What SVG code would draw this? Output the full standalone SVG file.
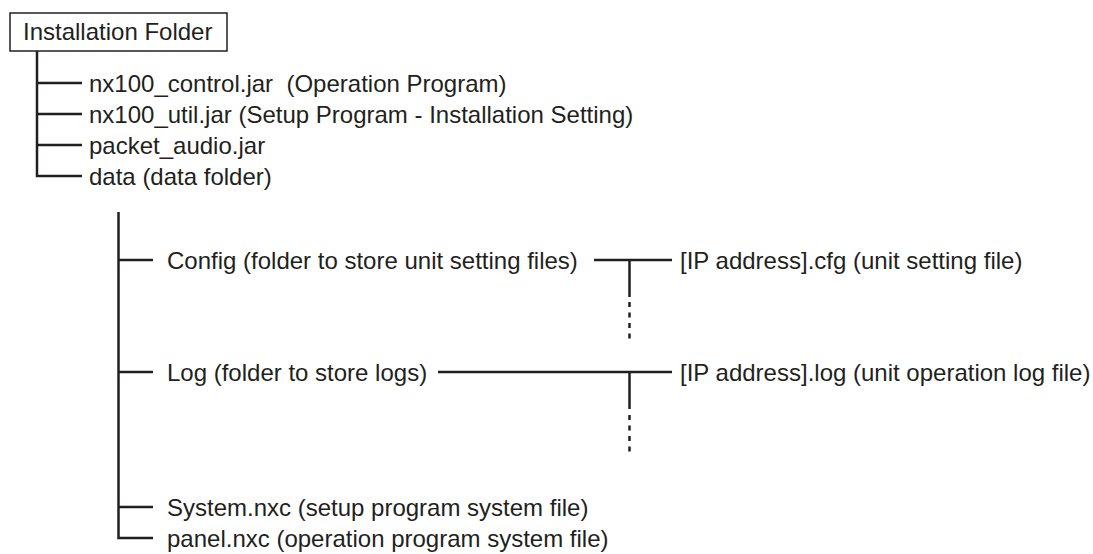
<svg xmlns="http://www.w3.org/2000/svg" width="1093" height="554" viewBox="0 0 1093 554">
<style>
.t{font-family:"Liberation Sans",Arial,Helvetica,sans-serif;font-size:24px;fill:#231f20;white-space:pre}
.ln{stroke:#231f20;stroke-width:2.5;fill:none}
.dash{stroke:#231f20;stroke-width:2.5;fill:none;stroke-dasharray:5 5.5}
.box{stroke:#231f20;stroke-width:1.5;fill:#fff}
</style>
<rect width="1093" height="554" fill="#fff"/>
<g id="connectors">
<path class="ln" d="M37 51V176H82M37 83H82M37 114H82M37 145H82"/>
<path class="ln" d="M118.5 212V538H153M118.5 260H153M118.5 372H153M118.5 507H153"/>
<path class="ln" d="M594 260H672M629.5 260V297"/>
<path class="dash" d="M629.5 302V340"/>
<path class="ln" d="M438 372H672M629.5 372V409"/>
<path class="dash" d="M629.5 415V453"/>
</g>
<g id="root"><rect class="box" x="10" y="13" width="217" height="38"/><text class="t" x="23" y="40">Installation Folder</text></g>
<g id="n1"><text class="t" x="89" y="91.5" xml:space="preserve">nx100_control.jar  (Operation Program)</text></g>
<g id="n2"><text class="t" x="89" y="122.5">nx100_util.jar (Setup Program - Installation Setting)</text></g>
<g id="n3"><text class="t" x="89" y="153.5">packet_audio.jar</text></g>
<g id="n4"><text class="t" x="89" y="184.5">data (data folder)</text></g>
<g id="n5"><text class="t" x="167" y="268.5">Config (folder to store unit setting files)</text></g>
<g id="n6"><text class="t" x="680" y="268.5">[IP address].cfg (unit setting file)</text></g>
<g id="n7"><text class="t" x="167" y="380.5">Log (folder to store logs)</text></g>
<g id="n8"><text class="t" x="680" y="380.5">[IP address].log (unit operation log file)</text></g>
<g id="n9"><text class="t" x="167" y="515.5">System.nxc (setup program system file)</text></g>
<g id="n10"><text class="t" x="167" y="546.5">panel.nxc (operation program system file)</text></g>
</svg>
